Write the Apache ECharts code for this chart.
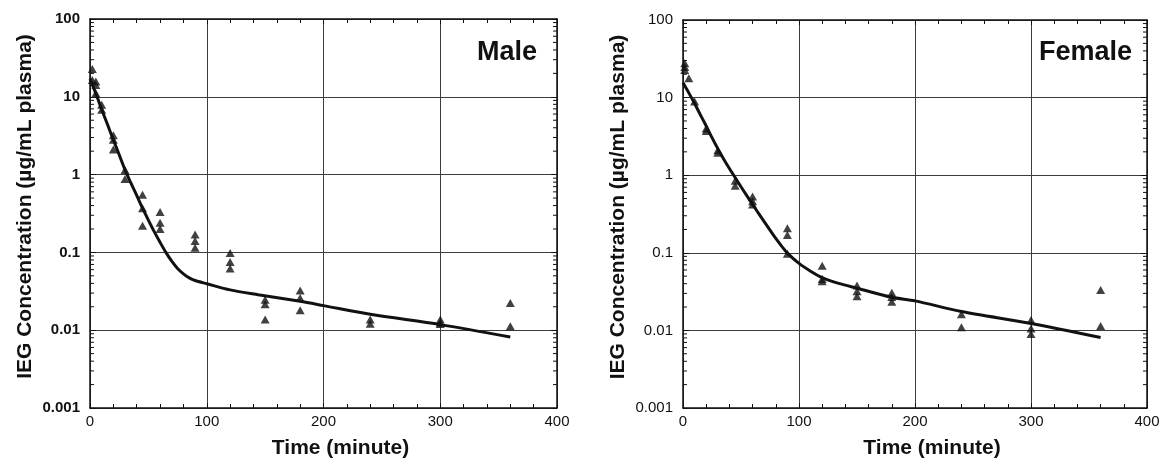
<!DOCTYPE html>
<html>
<head>
<meta charset="utf-8">
<script src="https://cdn.jsdelivr.net/npm/echarts@6/dist/echarts.min.js"></script>
<style>
html,body{margin:0;padding:0;background:#fff;}
#chart{width:1161px;height:464px;}
</style>
</head>
<body>
<div id="chart"></div>
<script>
// ---- data ----
const panelTitles = ['Male', 'Female'];
const xTickValues = [0, 100, 200, 300, 400];
const yTickLabels = ['0.001', '0.01', '0.1', '1', '10', '100'];
const yMinorTickValues = [
  0.002,0.003,0.004,0.005,0.006,0.007,0.008,0.009,
  0.02,0.03,0.04,0.05,0.06,0.07,0.08,0.09,
  0.2,0.3,0.4,0.5,0.6,0.7,0.8,0.9,
  2,3,4,5,6,7,8,9,
  20,30,40,50,60,70,80,90
];

const malePoints = [
  [2,22.8],[2,16.5],
  [5,15.7],[5,14.2],[5,11.1],
  [10,7.9],[10,6.8],
  [20,3.2],[20,2.8],[20,2.1],
  [30,1.15],[30,0.88],
  [45,0.55],[45,0.37],[45,0.22],
  [60,0.33],[60,0.24],[60,0.2],
  [90,0.17],[90,0.14],[90,0.115],
  [120,0.098],[120,0.075],[120,0.062],
  [150,0.0247],[150,0.0215],[150,0.0137],
  [180,0.0325],[180,0.026],[180,0.018],
  [240,0.0137],[240,0.0121],
  [300,0.0137],[300,0.0125],[300,0.012],
  [360,0.0224],[360,0.0112]
];
const maleCurve = [
  [0,17],[5,11],[10,6.9],[15,4.4],[20,2.8],[25,1.8],[30,1.15],[35,0.78],
  [40,0.54],[45,0.37],[50,0.26],[55,0.185],[60,0.135],[65,0.1],[70,0.077],
  [75,0.062],[80,0.053],[85,0.047],[90,0.0435],[100,0.0396],[120,0.033],
  [144,0.0286],[180,0.0235],[200,0.0207],[240,0.016],[300,0.0118],[360,0.0082]
];

const femalePoints = [
  [1.5,27.7],[1.5,24.8],[1.5,22.7],
  [5,17.7],
  [10,8.9],
  [20,4.0],[20,3.7],
  [30,2.1],[30,1.95],
  [45,0.85],[45,0.73],
  [60,0.53],[60,0.46],[60,0.42],
  [90,0.207],[90,0.17],[90,0.097],
  [120,0.068],[120,0.046],[120,0.043],
  [150,0.038],[150,0.032],[150,0.0275],
  [180,0.0306],[180,0.027],[180,0.0234],
  [240,0.0161],[240,0.011],
  [300,0.0136],[300,0.0106],[300,0.009],
  [360,0.0332],[360,0.0114]
];
const femaleCurve = [
  [0,15.5],[5,11.5],[10,8.4],[15,6.0],[20,4.3],[25,3.05],[30,2.2],[35,1.62],
  [40,1.22],[45,0.93],[50,0.71],[55,0.545],[60,0.42],[65,0.325],[70,0.252],
  [75,0.196],[80,0.153],[85,0.122],[90,0.099],[100,0.073],[110,0.058],
  [120,0.048],[135,0.04],[150,0.035],[180,0.0267],[200,0.024],[240,0.0175],
  [300,0.0123],[360,0.0081]
];

// ---- chart ----
const FONT = 'Liberation Sans, Arial, sans-serif';
const INK = '#111111';
const xMin = xTickValues[0], xMax = xTickValues[xTickValues.length - 1];

const grids = [
  {left: 90, top: 19, width: 467, height: 389, outerBoundsMode: 'none'},
  {left: 683, top: 20, width: 464, height: 388, outerBoundsMode: 'none'}
];

const xAxes = [], yAxes = [], series = [];
[0, 1].forEach(function (gi) {
  const boldY = gi === 0;
  xAxes.push({
    gridIndex: gi, type: 'value', position: 'bottom',
    min: xMin, max: xMax, interval: 100,
    axisLine: {show: true, onZero: false, lineStyle: {color: INK, width: 1.5}},
    axisTick: {show: true, inside: true, length: 5, lineStyle: {color: INK, width: 1}},
    minorTick: {show: true, splitNumber: 5, length: 4, lineStyle: {color: INK, width: 1}},
    splitLine: {show: true, lineStyle: {color: '#3c3c3c', width: 1}},
    axisLabel: {margin: 6, fontSize: 15, color: INK, fontFamily: FONT, hideOverlap: false},
    name: 'Time (minute)', nameLocation: 'middle', nameGap: 30, nameMoveOverlap: false,
    nameTextStyle: {fontSize: 21, fontWeight: 'bold', color: INK, fontFamily: FONT, padding: [0, 0, 0, 34]}
  });
  xAxes.push({
    gridIndex: gi, type: 'value', position: 'top',
    min: xMin, max: xMax, interval: 100,
    axisLine: {show: true, onZero: false, lineStyle: {color: INK, width: 1.5}},
    axisTick: {show: true, inside: true, length: 5, lineStyle: {color: INK, width: 1}},
    minorTick: {show: true, splitNumber: 5, length: 4, lineStyle: {color: INK, width: 1}},
    splitLine: {show: false},
    axisLabel: {show: false}
  });
  yAxes.push({
    gridIndex: gi, type: 'log', logBase: 10, position: 'left',
    min: 0.001, max: 100, splitNumber: 5,
    axisLine: {show: true, onZero: false, lineStyle: {color: INK, width: 1.5}},
    axisTick: {show: true, inside: true, length: 6, lineStyle: {color: INK, width: 1}},
    splitLine: {show: true, lineStyle: {color: '#3c3c3c', width: 1}},
    axisLabel: {
      margin: 10, fontSize: 15, color: INK, fontFamily: FONT,
      fontWeight: boldY ? 'bold' : 'normal', hideOverlap: false,
      formatter: function (v) { return yTickLabels[Math.round(Math.log10(v)) + 3]; }
    },
    name: 'IEG Concentration (µg/mL plasma)', nameLocation: 'middle', nameGap: 54, nameMoveOverlap: false,
    nameTextStyle: {fontSize: 21, fontWeight: 'bold', color: INK, fontFamily: FONT, padding: [0, 0, 0, 14]}
  });
  yAxes.push({
    gridIndex: gi, type: 'log', logBase: 10, position: 'right',
    min: 0.001, max: 100, splitNumber: 5,
    axisLine: {show: true, onZero: false, lineStyle: {color: INK, width: 1.5}},
    axisTick: {show: true, inside: true, length: 6, lineStyle: {color: INK, width: 1}},
    splitLine: {show: false},
    axisLabel: {show: false}
  });
});

function minorTickSeries(gi) {
  return {
    type: 'custom', xAxisIndex: gi * 2, yAxisIndex: gi * 2, silent: true, clip: false,
    data: yMinorTickValues.map(function (v) { return [xMin, v]; }),
    encode: {x: 0, y: 1},
    renderItem: function (params, api) {
      const v = api.value(1);
      const pL = api.coord([xMin, v]);
      const pR = api.coord([xMax, v]);
      return {
        type: 'group',
        children: [
          {type: 'line', shape: {x1: pL[0], y1: pL[1], x2: pL[0] + 4, y2: pL[1]}, style: {stroke: INK, lineWidth: 1}},
          {type: 'line', shape: {x1: pR[0], y1: pR[1], x2: pR[0] - 4, y2: pR[1]}, style: {stroke: INK, lineWidth: 1}}
        ]
      };
    },
    z: 3
  };
}

const curves = [maleCurve, femaleCurve];
const points = [malePoints, femalePoints];
[0, 1].forEach(function (gi) {
  series.push(minorTickSeries(gi));
  series.push({
    type: 'line', xAxisIndex: gi * 2, yAxisIndex: gi * 2,
    data: curves[gi], smooth: 0.3, showSymbol: false, symbol: 'none',
    lineStyle: {color: INK, width: 3}, z: 4, animation: false
  });
  series.push({
    type: 'scatter', xAxisIndex: gi * 2, yAxisIndex: gi * 2,
    data: points[gi], symbol: 'triangle', symbolSize: [9, 8],
    itemStyle: {color: INK}, z: 5, animation: false
  });
});

const chart = echarts.init(document.getElementById('chart'), null, {renderer: 'canvas'});
chart.setOption({
  animation: false,
  backgroundColor: '#ffffff',
  title: [
    {text: panelTitles[0], right: 624, top: 39, padding: 0,
     textStyle: {fontSize: 27, fontWeight: 'bold', color: INK, fontFamily: FONT}},
    {text: panelTitles[1], right: 29, top: 39, padding: 0,
     textStyle: {fontSize: 27, fontWeight: 'bold', color: INK, fontFamily: FONT}}
  ],
  grid: grids,
  xAxis: xAxes,
  yAxis: yAxes,
  series: series
});
</script>
</body>
</html>
